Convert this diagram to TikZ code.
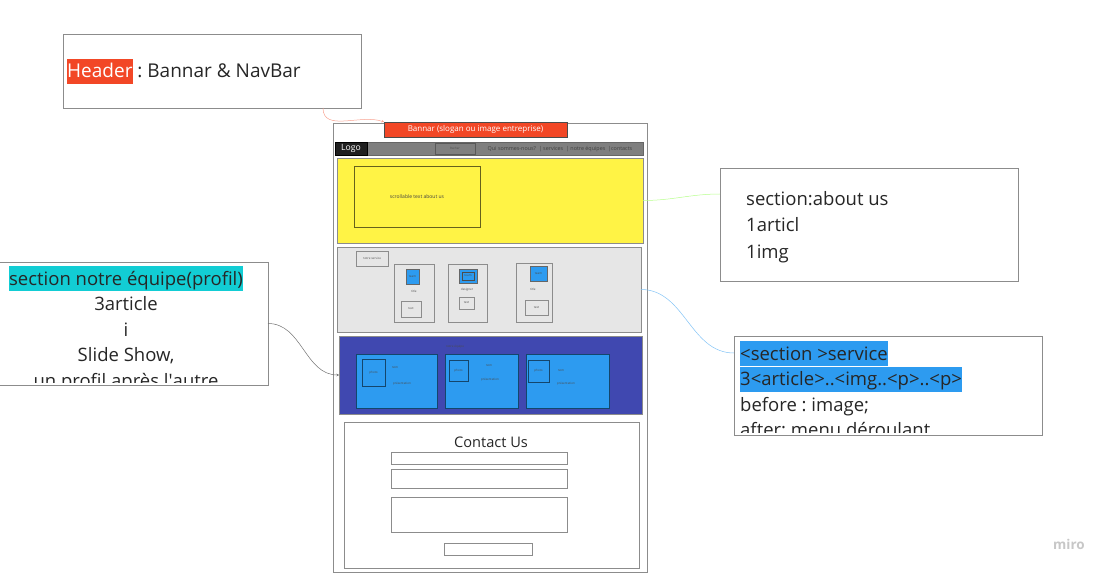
\documentclass[tikz,border=0pt]{standalone}
\usepackage{fontspec}
\setmainfont{Open Sans}
\usepackage{xcolor}
\usetikzlibrary{positioning,arrows.meta}

\definecolor{bannarred}{HTML}{F24726}
\definecolor{aboutyellow}{HTML}{FFF345}
\definecolor{servgray}{HTML}{E6E6E6}
\definecolor{teamindigo}{HTML}{4048B0}
\definecolor{cardblue}{HTML}{2D9BF0}
\definecolor{notecyan}{HTML}{12CDD4}
\definecolor{framegray}{HTML}{8C8C8C}
\definecolor{navgray}{HTML}{7F7F7F}

\newcommand{\hl}[2]{{\setlength{\fboxsep}{0pt}\colorbox{#1}{\rule[-6pt]{0pt}{25pt}#2}}}
\frenchspacing

\begin{document}
\begin{tikzpicture}[x=1pt,y=-1pt,
  sec/.style={draw=framegray, line width=0.8pt, inner sep=0pt, outer sep=0pt, anchor=north west},
  tiny/.style={font=\fontsize{3}{3.5}\selectfont, text=black!70, inner sep=0pt},
  link/.style={line width=0.5pt, -{Stealth[length=2.5pt,width=2.5pt]}}]
\useasboundingbox (0,0) rectangle (1112,575);

% page
\node[sec, minimum width=314, minimum height=449] (page) at (333,123) {};
\node[sec, draw=black!70, fill=bannarred, minimum width=183, minimum height=15] (bannar) at (384,122) {};
\node[text=white, font=\fontsize{8}{9}\selectfont, inner sep=0pt] (bannartxt) at (bannar.center) {Bannar (slogan ou image entreprise)};

\node[sec, draw=black!60, fill=navgray, minimum width=308, minimum height=13] (nav) at (335,142) {};
\node[sec, draw=black, fill=black!88, minimum width=32, minimum height=13] (logo) at (335,142) {};
\node[text=white, font=\fontsize{8.6}{9}\selectfont, inner sep=0pt] (logotxt) at (logo.center) {Logo};
\node[sec, draw=black!65, fill=navgray, minimum width=40, minimum height=11] (search) at (435,143) {};
\node[tiny] (searchtxt) at (search.center) {Recher};
\node[font=\fontsize{5.4}{6}\selectfont, text=black!75, inner sep=0pt] (menu) at (560,149) {Qui sommes-nous?\ \ | services\ \ | notre équipes\ \ |contacts};

% about us
\node[sec, fill=aboutyellow, minimum width=306, minimum height=85] (about) at (337,158) {};
\node[sec, draw=black!60!aboutyellow, minimum width=126, minimum height=61] (scroll) at (354,166) {};
\node[font=\fontsize{5}{6}\selectfont, text=black!75, inner sep=0pt] (scrolltxt) at (scroll.center) {scrollable text about us};

% services
\node[sec, fill=servgray, minimum width=304, minimum height=85] (service) at (337,247) {};
\node[sec, minimum width=32, minimum height=15] (servtitle) at (356,251) {};
\node[tiny] at (servtitle.center) {notre service};

\node[sec, minimum width=40, minimum height=58] (card1) at (394,264) {};
\node[sec, draw=black!60, fill=cardblue, minimum width=13, minimum height=15] (img1) at (406,269) {};
\node[tiny] at (img1.center) {team};
\node[tiny] at (414,291) {title};
\node[sec, minimum width=20, minimum height=16] (txt1) at (401,301) {};
\node[tiny] at (txt1.center) {text};

\node[sec, minimum width=39, minimum height=58] (card2) at (448,264) {};
\node[sec, draw=black!60, fill=cardblue, minimum width=18, minimum height=14] (img2) at (459,269) {};
\node[sec, draw=black!70, minimum width=12, minimum height=8] (img2in) at (462,272) {};
\node[tiny] at (img2in.center) {team};
\node[tiny] at (467,290) {designer};
\node[sec, minimum width=15, minimum height=12] (txt2) at (459,297) {};
\node[tiny] at (txt2.center) {text};

\node[sec, minimum width=36, minimum height=59] (card3) at (516,263) {};
\node[sec, draw=black!60, fill=cardblue, minimum width=17, minimum height=15] (img3) at (530,266) {};
\node[tiny] at (img3.center) {team};
\node[tiny] at (533,289) {title};
\node[sec, minimum width=23, minimum height=15] (txt3) at (525,300) {};
\node[tiny] at (txt3.center) {text};

% team
\node[sec, fill=teamindigo, minimum width=303, minimum height=78] (team) at (339,336) {};
\node[tiny] at (455,347) {notre équipe};

\node[sec, draw=black!55!cardblue, fill=cardblue, minimum width=81, minimum height=54] (prof1) at (356,354) {};
\node[sec, draw=black!55!cardblue, minimum width=23, minimum height=27] (photo1) at (362,359) {};
\node[tiny] at (photo1.center) {photo};
\node[tiny] at (395,368) {nom};
\node[tiny] at (402,384) {présentation};

\node[sec, draw=black!55!cardblue, fill=cardblue, minimum width=73, minimum height=54] (prof2) at (445,354) {};
\node[sec, draw=black!55!cardblue, minimum width=19, minimum height=21] (photo2) at (449,360) {};
\node[tiny] at (photo2.center) {photo};
\node[tiny] at (489,366) {nom};
\node[tiny] at (490,380) {présentation};

\node[sec, draw=black!55!cardblue, fill=cardblue, minimum width=83, minimum height=54] (prof3) at (526,354) {};
\node[sec, draw=black!55!cardblue, minimum width=21, minimum height=22] (photo3) at (528,360) {};
\node[tiny] at (photo3.center) {photo};
\node[tiny] at (561,371) {nom};
\node[tiny] at (566,384) {présentation};

% contact
\node[sec, fill=white, minimum width=295, minimum height=146] (contact) at (344,422) {};
\node[font=\fontsize{14.6}{16}\selectfont, text=black!85, inner sep=0pt] (contacttxt) at (491,442) {Contact Us};
\node[sec, minimum width=176, minimum height=12] (field1) at (391,452) {};
\node[sec, minimum width=176, minimum height=19] (field2) at (391,469) {};
\node[sec, minimum width=176, minimum height=35] (field3) at (391,497) {};
\node[sec, minimum width=88, minimum height=12] (send) at (444,543) {};

% notes
\node[sec, fill=white, minimum width=298, minimum height=74] (hdr) at (63,34) {};
\node[anchor=base west, inner sep=0pt, font=\fontsize{19}{26}\selectfont, text=black!85] (hdrtxt) at (67,78) {\hl{bannarred}{\textcolor{white}{Header}} : Bannar \& NavBar};

\node[sec, fill=white, minimum width=288, minimum height=123] (equipe) at (-20,262) {};
\begin{scope}
\clip (0,263) rectangle (267,382);
\node[anchor=north, inner sep=0pt, align=center, font=\fontsize{18.5}{25.5}\selectfont, text=black!85] (equipetxt) at (126,266)
  {\hl{notecyan}{section notre équipe(profil)}\\3article\\i\\Slide Show,\\un profil après l\textquotesingle autre};
\end{scope}

\node[sec, fill=white, minimum width=298, minimum height=113] (aboutnote) at (720,168) {};
\node[anchor=north west, inner sep=0pt, align=left, font=\fontsize{18.5}{26.5}\selectfont, text=black!85] (abouttxt) at (746,191)
  {section:about us\\1articl\\1img};

\node[sec, fill=white, minimum width=308, minimum height=99] (servnote) at (734,336) {};
\begin{scope}
\clip (735,337) rectangle (1041,432);
\node[anchor=north west, inner sep=0pt, align=left, font=\fontsize{18.5}{25.5}\selectfont, text=black!85] (servtxt) at (740,341)
  {\hl{cardblue}{<section >service}\\\hl{cardblue}{3<article>..<img..<p>..<p>}\\before : image;\\after: menu déroulant};
\end{scope}

% connectors
\draw[link, draw=bannarred!50] ([xshift=-38pt]hdr.south east) to[out=-90,in=160] (bannar.north west);
\draw[link, draw=black!55] (equipe.east) to[out=0,in=180] (team.west);
\draw[line width=0.5pt, draw=green!50!lime!45] (about.east) to[out=0,in=180] ([yshift=30.5pt]aboutnote.west);
\draw[line width=0.5pt, draw=cardblue!60] (service.east) to[out=0,in=180] ([yshift=32.5pt]servnote.west);

\node[font=\fontsize{13.5}{14}\selectfont\bfseries, text=black!22, inner sep=0pt] (miro) at (1069,544) {miro};
\end{tikzpicture}
\end{document}
